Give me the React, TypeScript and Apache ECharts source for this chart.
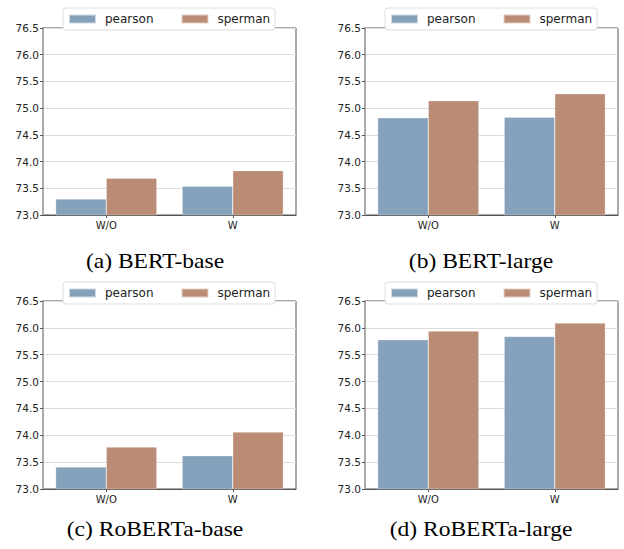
import React, { useEffect, useRef } from "react";
import * as echarts from "echarts";

const categories = ["W/O", "W"];
const seriesNames = ["pearson", "sperman"];
const panelTitles = ["(a) BERT-base", "(b) BERT-large", "(c) RoBERTa-base", "(d) RoBERTa-large"];
const bertBasePearson = [73.3, 73.54];
const bertBaseSperman = [73.69, 73.83];
const bertLargePearson = [74.82, 74.83];
const bertLargeSperman = [75.14, 75.27];
const robertaBasePearson = [73.41, 73.62];
const robertaBaseSperman = [73.78, 74.06];
const robertaLargePearson = [75.78, 75.84];
const robertaLargeSperman = [75.94, 76.09];
const yMin = 73.0;
const yMax = 76.5;
const yStep = 0.5;

const panelData = [
  [bertBasePearson, bertBaseSperman],
  [bertLargePearson, bertLargeSperman],
  [robertaBasePearson, robertaBaseSperman],
  [robertaLargePearson, robertaLargeSperman],
];

const colors = ["#86a1bb", "#bb8c75"];

const grids = [
  { left: 43, top: 28, width: 253, height: 187 },
  { left: 365, top: 28, width: 253, height: 187 },
  { left: 43, top: 301, width: 253, height: 188 },
  { left: 365, top: 301, width: 253, height: 188 },
];
const legendPos = [
  { left: 63, top: 8 },
  { left: 385, top: 8 },
  { left: 63, top: 282 },
  { left: 385, top: 282 },
];
const captionPos = [
  { x: 155, y: 261 },
  { x: 481, y: 261 },
  { x: 155, y: 529 },
  { x: 481, y: 529 },
];

export default function App() {
  const ref = useRef<HTMLDivElement>(null);
  useEffect(() => {
    if (!ref.current) return;
    const chart = echarts.init(ref.current, null, { renderer: "svg" });
    const sans = "DejaVu Sans";
    const option: any = {
      animation: false,
      backgroundColor: "#ffffff",
      color: colors,
      grid: grids.map((g) => ({
        ...g,
        show: true,
        borderColor: "#555555",
        borderWidth: 1,
        backgroundColor: "transparent",
      })),
      xAxis: grids.map((_, i) => ({
        type: "category",
        gridIndex: i,
        data: categories,
        axisLine: { lineStyle: { color: "#555555", width: 1 } },
        axisTick: { show: true, alignWithLabel: true, length: 3, lineStyle: { color: "#555555" } },
        axisLabel: { fontFamily: sans, fontSize: 10, color: "#222222", margin: 5 },
      })),
      yAxis: grids.map((_, i) => ({
        type: "value",
        gridIndex: i,
        min: yMin,
        max: yMax,
        interval: yStep,
        axisLine: { show: true, lineStyle: { color: "#aaaaaa", width: 2 } },
        axisTick: { show: true, length: 3, lineStyle: { color: "#555555" } },
        axisLabel: {
          fontFamily: sans,
          fontSize: 10.5,
          color: "#222222",
          margin: 4,
          formatter: (v: number) => v.toFixed(1),
        },
        splitLine: { show: true, lineStyle: { color: "#dddddd", width: 1 } },
      })),
      legend: legendPos.map((p) => ({
        ...p,
        data: seriesNames,
        orient: "horizontal",
        icon: "rect",
        itemWidth: 27,
        itemHeight: 9,
        itemGap: 27,
        padding: [5, 5],
        backgroundColor: "#ffffff",
        borderColor: "#dddddd",
        borderWidth: 1,
        borderRadius: 3,
        selectedMode: false,
        textStyle: { fontFamily: sans, fontSize: 12, color: "#222222", padding: [0, 0, 0, 4] },
        z: 10,
      })),
      series: panelData.flatMap((pair, i) =>
        pair.map((vals, j) => ({
          type: "bar",
          name: seriesNames[j],
          xAxisIndex: i,
          yAxisIndex: i,
          data: vals,
          barGap: "0%",
          barCategoryGap: "20%",
          itemStyle: { color: colors[j], borderColor: "rgba(255,255,255,0.6)", borderWidth: 0.5 },
        }))
      ),
      graphic: panelTitles.map((t, i) => ({
        type: "text",
        x: captionPos[i].x,
        y: captionPos[i].y,
        scaleX: 1.07,
        style: {
          text: t,
          fontFamily: "Liberation Serif",
          fontSize: 22,
          fill: "#000000",
          textAlign: "center",
          textVerticalAlign: "middle",
        },
      })),
    };
    chart.setOption(option);
    return () => chart.dispose();
  }, []);
  return (
    <div
      ref={ref}
      style={{ position: "absolute", left: 0, top: 0, width: 624, height: 549 }}
    />
  );
}
